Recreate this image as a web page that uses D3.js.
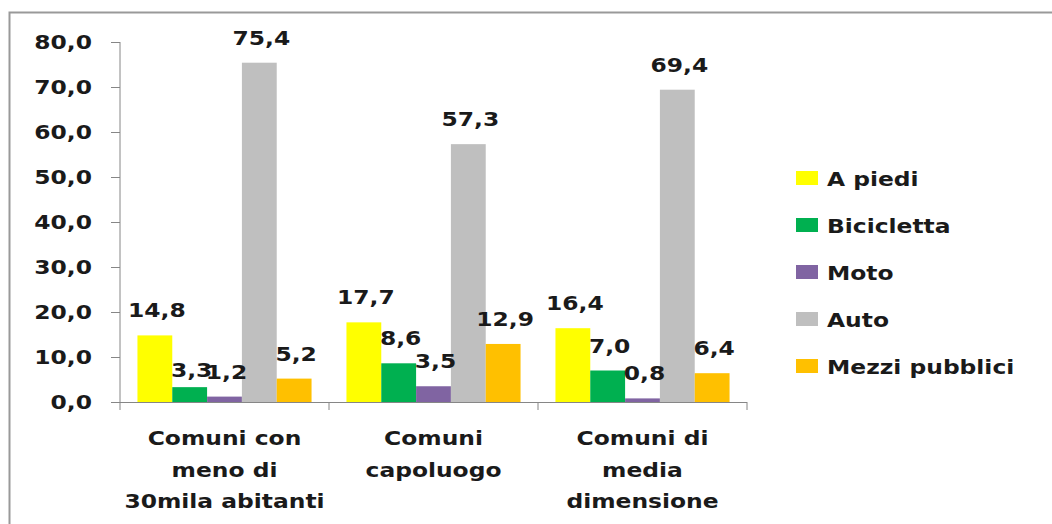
<!DOCTYPE html>
<html><head><meta charset="utf-8">
<script src="https://cdn.jsdelivr.net/npm/d3@7"></script>
<style>html,body{margin:0;padding:0;background:#fff;}svg text{font-family:"DejaVu Sans",Verdana,sans-serif;font-weight:bold;fill:#1a1a1a;}</style>
</head><body>
<svg id="c" width="1052" height="524"></svg>
<script>
const categories = [["Comuni con","meno di","30mila abitanti"],["Comuni","capoluogo"],["Comuni di","media","dimensione"]];
const series = ["A piedi","Bicicletta","Moto","Auto","Mezzi pubblici"];
const colors = ["#FFFF00","#00B050","#8064A2","#BFBFBF","#FFC000"];
const values = [
  [14.8, 3.3, 1.2, 75.4, 5.2],
  [17.7, 8.6, 3.5, 57.3, 12.9],
  [16.4, 7.0, 0.8, 69.4, 6.4]
];
const yTicks = [0,10,20,30,40,50,60,70,80];

const svg = d3.select("#c");
const SX = 1.17, FS = 20;
const fmt = v => d3.format(".1f")(v).replace(".", ",");

svg.append("rect").attr("x",9.5).attr("y",12.5).attr("width",1100).attr("height",600)
  .attr("fill","none").attr("stroke","#999").attr("stroke-width",2);

const x0 = d3.scaleBand().domain(d3.range(categories.length)).range([120,747]).paddingInner(0.167).paddingOuter(0.0835);
const x1 = d3.scaleBand().domain(d3.range(series.length)).range([0,x0.bandwidth()]);
const y = d3.scaleLinear().domain([0,80]).range([402,42]);

function stext(g, x, yy, txt, anchor){
  return g.append("g").attr("transform",`translate(${x},${yy}) scale(${SX},1)`)
    .append("text").attr("text-anchor",anchor).attr("font-size",FS).text(txt);
}

// y axis
const yAxis = d3.axisLeft(y).tickValues(yTicks).tickSize(9).tickFormat(d=>"");
const ya = svg.append("g").attr("transform","translate(120,0)").call(yAxis);
ya.select(".domain").attr("stroke","#868686").attr("d","M0,42V410");
ya.selectAll(".tick line").attr("stroke","#868686");
yTicks.forEach(t=>stext(svg, 92, y(t)+7, fmt(t), "end"));

// x axis
svg.append("line").attr("x1",111).attr("x2",747).attr("y1",402.5).attr("y2",402.5).attr("stroke","#868686");
const bounds = [x0.step()*1+120, x0.step()*2+120, 747];
bounds.forEach(b=>svg.append("line").attr("x1",b).attr("x2",b).attr("y1",402).attr("y2",410).attr("stroke","#868686"));

// bars
values.forEach((row,ci)=>{
  row.forEach((v,si)=>{
    const bx = x0(ci)+x1(si);
    svg.append("rect").attr("x",bx).attr("y",y(v)).attr("width",x1.bandwidth()).attr("height",y(0)-y(v)).attr("fill",colors[si]);
  });
});
// labels
values.forEach((row,ci)=>{
  row.forEach((v,si)=>{
    const cx = x0(ci)+x1(si)+x1.bandwidth()/2;
    let ly = y(v)-18;
    if(ci===0 && si===1) ly = y(v)-10;
    stext(svg, cx+2, ly, fmt(v), "middle");
  });
});

// category labels
categories.forEach((lines,ci)=>{
  const cx = x0(ci)+x0.bandwidth()/2;
  lines.forEach((l,li)=>stext(svg, cx, 445+li*31.5, l, "middle"));
});

// legend
series.forEach((s,i)=>{
  const cy = 178 + i*47;
  svg.append("rect").attr("x",796).attr("y",cy-7).attr("width",22).attr("height",14).attr("fill",colors[i]);
  stext(svg, 827, cy+8, s, "start");
});
</script>
</body></html>
